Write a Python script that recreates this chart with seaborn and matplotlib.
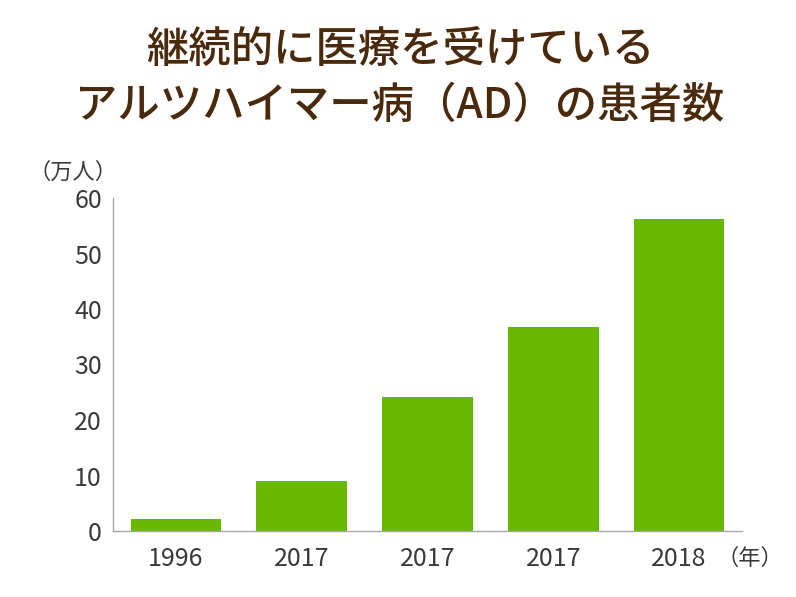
import numpy as np
import matplotlib
matplotlib.use("Agg")
import matplotlib.pyplot as plt
import seaborn as sns

# data
years = ["1996", "2017", "2017", "2017", "2018"]
patients = [2.2, 9.0, 24.1, 36.7, 56.3]
yticks = [0, 10, 20, 30, 40, 50, 60]
title_lines = ["継続的に医療を受けている", "アルツハイマー病（AD）の患者数"]
y_unit = "（万人）"
x_unit = "（年）"

sns.set_theme(style="white")
plt.rcParams['font.family'] = ['Noto Sans CJK JP', 'DejaVu Sans']

BAR = "#69b800"
TITLE_C = "#4a2a0c"
TXT = "#3a3a3a"
SPINE = "#a8a8a8"

fig = plt.figure(figsize=(7.96, 5.97), dpi=100)
ax = fig.add_axes([113/796, 1 - 531/597, (742 - 113)/796, (531 - 198)/597])

sns.barplot(x=np.arange(len(patients)), y=patients, color=BAR, width=0.72,
            saturation=1, edgecolor="none", ax=ax)

ax.set_xlim(-0.5, len(patients) - 0.5)
ax.set_ylim(0, 60)
ax.set_yticks(yticks)
ax.set_yticklabels([str(v) for v in yticks])
ax.set_xticks(np.arange(len(years)))
ax.set_xticklabels(years)
ax.tick_params(axis="both", length=0, labelsize=18, colors=TXT)
ax.tick_params(axis="y", pad=8)
ax.tick_params(axis="x", pad=11)
ax.set_xlabel("")
ax.set_ylabel("")
for s in ["top", "right"]:
    ax.spines[s].set_visible(False)
for s in ["left", "bottom"]:
    ax.spines[s].set_color(SPINE)
    ax.spines[s].set_linewidth(1.0)

fig.text(400/796, 1 - 50/597, title_lines[0], ha="center", va="center",
         fontsize=30.5, color=TITLE_C, fontweight="medium")
fig.text(400/796, 1 - 105/597, title_lines[1], ha="center", va="center",
         fontsize=30.5, color=TITLE_C, fontweight="medium")

fig.text(73/796, 1 - 172/597, y_unit, ha="center", va="center",
         fontsize=16, color=TXT)
fig.text(750/796, 1 - 558/597, x_unit, ha="center", va="center",
         fontsize=16, color=TXT)

fig.savefig("out.png", dpi=100, facecolor="white")
